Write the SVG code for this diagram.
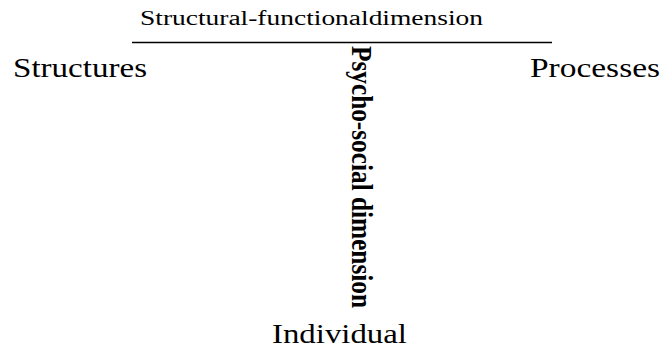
<svg xmlns="http://www.w3.org/2000/svg" width="663" height="358" viewBox="0 0 663 358">
<style>
.t{font-family:"Liberation Serif","Times New Roman",serif;fill:#000}
.top{font-size:20px}
.big{font-size:28px}
.vert{font-size:30px;font-weight:bold}
.ln{stroke:#000;stroke-width:1.5;fill:none}
</style>
<rect width="663" height="358" fill="#fff"/>
<g id="connectors">
<line class="ln" x1="132" y1="42.5" x2="552" y2="42.5"/>
</g>
<g id="structural-functional">
<text class="t top" x="140" y="25" textLength="343" lengthAdjust="spacingAndGlyphs">Structural-functionaldimension</text>
</g>
<g id="structures">
<text class="t big" x="13" y="77" textLength="134" lengthAdjust="spacingAndGlyphs">Structures</text>
</g>
<g id="processes">
<text class="t big" x="530" y="77" textLength="130" lengthAdjust="spacingAndGlyphs">Processes</text>
</g>
<g id="psycho-social">
<text class="t vert" transform="translate(352,46) rotate(90)" x="0" y="0" textLength="262" lengthAdjust="spacingAndGlyphs">Psycho-social dimension</text>
</g>
<g id="individual">
<text class="t big" x="272" y="343" textLength="135" lengthAdjust="spacingAndGlyphs">Individual</text>
</g>
</svg>
